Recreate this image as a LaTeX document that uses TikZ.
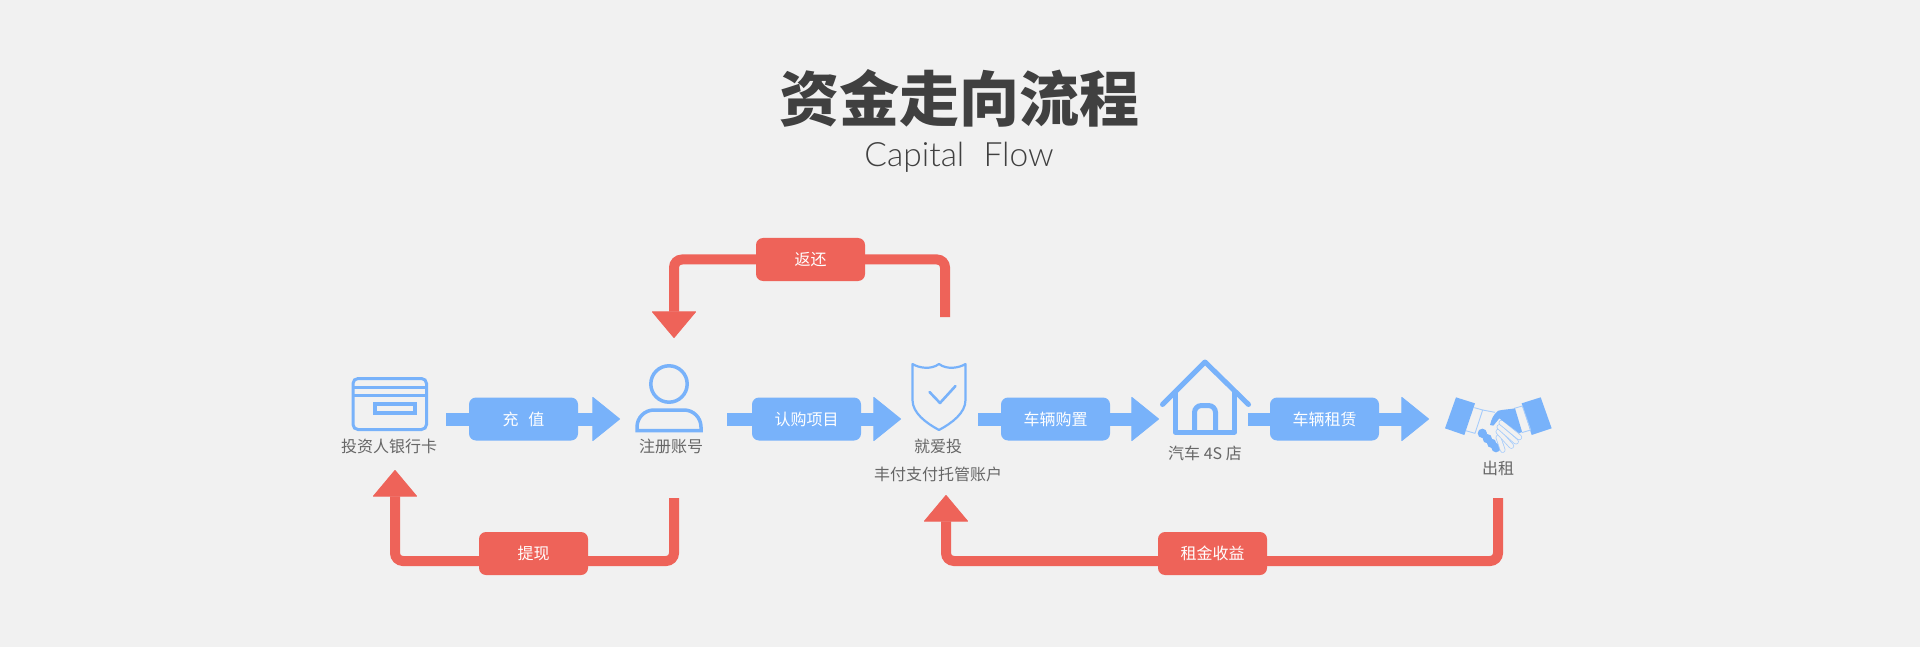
\documentclass[tikz,border=0pt]{standalone}
\usepackage{fontspec}
\usetikzlibrary{arrows.meta}
\setmainfont{Noto Sans CJK SC}
\newfontfamily\titlefont[UprightFont=* Black]{Noto Sans CJK SC}
\newfontfamily\thinfont{Lato Light}
\definecolor{bgc}{HTML}{F1F1F1}
\definecolor{bluec}{HTML}{78B2FA}
\definecolor{lightb}{HTML}{A6CCFB}
\definecolor{redc}{HTML}{EE6359}
\definecolor{titlec}{HTML}{404040}
\definecolor{textc}{HTML}{666666}
\tikzset{
  pillbase/.style={rounded corners=7pt,minimum width=109pt,minimum height=43pt,inner sep=0pt,outer sep=0pt,text=white,font=\fontsize{16}{18}\selectfont},
  bluepill/.style={pillbase,fill=bluec},
  redpill/.style={pillbase,fill=redc},
  iconbox/.style={inner sep=0pt,outer sep=0pt},
  lab/.style={text=textc,font=\fontsize{16}{18}\selectfont,inner sep=0pt},
  bluestem/.style={draw=bluec,line width=13pt},
  bluehead/.style={bluestem,-{Triangle[length=28pt,width=45pt,round,line width=1pt]}},
  redstem/.style={draw=redc,line width=10pt,rounded corners=8pt},
  redhead/.style={redstem,-{Triangle[length=27pt,width=45pt,round,line width=1pt]}},
  iconline/.style={draw=bluec,line width=3pt},
  finger/.style={line cap=round},
}
\begin{document}
\begin{tikzpicture}[x=1pt,y=-1pt]
\useasboundingbox (0,0) rectangle (1920,647);
\fill[bgc] (0,0) rectangle (1920,647);

% titles
\node[inner sep=0pt,text=titlec,font=\titlefont\fontsize{60}{64}\selectfont] (title) at (959.5,98) {资金走向流程};
\node[inner sep=0pt,text=titlec,font=\thinfont\fontsize{33.5}{40}\selectfont,anchor=base] (subtitle) at (959,167) {Capital\hspace{0.3em} Flow};

% icon areas
\node[iconbox,minimum width=77pt,minimum height=54pt] (card) at (389.5,404) {};
\node[iconbox,minimum width=68pt,minimum height=68pt] (person) at (669,398) {};
\node[iconbox,minimum width=54pt,minimum height=67pt] (shield) at (939,396.5) {};
\node[iconbox,minimum width=91pt,minimum height=76pt] (house) at (1205.5,397) {};
\node[iconbox,minimum width=107pt,minimum height=38pt] (hands) at (1498.5,416) {};

% pills
\node[bluepill] (pA) at (523.5,419) {充\hspace{0.6em}值};
\node[bluepill] (pB) at (806.5,419) {认购项目};
\node[bluepill] (pC) at (1055.5,419) {车辆购置};
\node[bluepill] (pD) at (1324.5,419) {车辆租赁};
\node[redpill] (pR) at (810.5,259.5) {返还};
\node[redpill] (pW) at (533.5,553.5) {提现};
\node[redpill] (pY) at (1212.5,553.5) {租金收益};

% labels
\node[lab] (lcard) at (389,446) {投资人银行卡};
\node[lab] (lperson) at (671,446) {注册账号};
\node[lab] (lshield1) at (938,446) {就爱投};
\node[lab] (lshield2) at (938,474) {丰付支付托管账户};
\node[lab] (lhouse) at (1205,453) {汽车 4S 店};
\node[lab] (lhands) at (1498,468) {出租};

% blue connectors
\draw[bluestem,shorten <=18pt] (card.east |- pA.west) -- (pA.west);
\draw[bluehead,shorten >=15pt] (pA.east) -- (pA.east -| person.west);
\draw[bluestem,shorten <=24pt] (person.east |- pB.west) -- (pB.west);
\draw[bluehead,shorten >=11pt] (pB.east) -- (pB.east -| shield.west);
\draw[bluestem,shorten <=12pt] (shield.east |- pC.west) -- (pC.west);
\draw[bluehead,shorten >=1pt] (pC.east) -- (pC.east -| house.west);
\draw[bluestem,shorten <=-3pt] (house.east |- pD.west) -- (pD.west);
\draw[bluehead,shorten >=16pt] (pD.east) -- (pD.east -| hands.west);

% red connectors
\coordinate (rWs) at (674,498);
\coordinate (rWt) at (395,470);
\coordinate (rYs) at (1498,498);
\coordinate (rYt) at (946,495);
\coordinate (rRs) at (945,317);
\coordinate (rRt) at (674,338);
\draw[redstem] (rWs) |- ([yshift=-7.5pt]pW.east);
\draw[redhead] ([yshift=-7.5pt]pW.west) -| (rWt);
\draw[redstem] (rYs) |- ([yshift=-7.5pt]pY.east);
\draw[redhead] ([yshift=-7.5pt]pY.west) -| (rYt);
\draw[redstem] (rRs) |- (pR.east);
\draw[redhead] (pR.west) -| (rRt);

% card icon
\draw[iconline,rounded corners=5pt] (353,378.5) rectangle (426.5,429.5);
\draw[iconline] (353,387.5) -- (426.5,387.5) (353,395) -- (426.5,395);
\draw[draw=bluec,line width=4pt] (375,404) rectangle (415,413);

% person icon
\draw[draw=bluec,line width=3.5pt] (669,384) circle (18.2);
\draw[draw=bluec,line width=3.5pt] (637,430.5) [rounded corners=17pt] -- (637,410) -- (701,410) [sharp corners] -- (701,430.5) -- cycle;

% shield icon
\draw[draw=bluec,line width=2.2pt,line join=round]
  (912.5,364) .. controls (919,368) and (931,370) .. (939,364)
  .. controls (947,370) and (959,368) .. (965.5,364)
  -- (965.5,400) .. controls (965.5,413) and (952,423) .. (939,430)
  .. controls (926,423) and (912.5,413) .. (912.5,400) -- cycle;
\draw[draw=bluec,line width=2.6pt,line cap=round,line join=round] (929.5,392) -- (940,403) -- (955.5,386);

% house icon
\draw[draw=bluec,line width=5pt,line cap=round,line join=round] (1162.5,404.5) -- (1205,362) -- (1248.5,404.5);
\draw[draw=bluec,line width=5pt,line join=round] (1175,392) -- (1175,432) -- (1234.5,432) -- (1234.5,392);
\draw[draw=bluec,line width=5pt,rounded corners=7pt] (1194.5,432) -- (1194.5,405.5) -- (1215.5,405.5) -- (1215.5,432);

% handshake icon
\begin{scope}[shift={(1430,380)},x=0.33333pt,y=-0.33333pt]
  \fill[bluec] (78,52) -- (135,70) -- (103,165) -- (45,145) -- cycle;
  \fill[bluec] (275,70) -- (332,52) -- (365,145) -- (305,165) -- cycle;
  \draw[draw=lightb,line width=0.9pt,line join=round] (133,83) -- (158,90) -- (135,160) -- (107,152);
  \draw[draw=lightb,line width=0.9pt,line join=round] (253,85) -- (277,78) -- (302,150) -- (275,158);
  \draw[draw=lightb,line width=0.9pt] (158,90) -- (195,97);
  \foreach \cx/\cy in {157/160,172/176,185/190,198/203} \fill[bluec] (\cx,\cy) circle (14);
  \foreach \ax/\ay/\bx/\by in {205/172/218/210,205/155/244/198,208/141/258/185,214/128/268/172} {
    \draw[draw=lightb,line width=5.6pt,finger] (\ax,\ay) -- (\bx,\by);
    \draw[draw=bgc,line width=4pt,finger] (\ax,\ay) -- (\bx,\by);
  }
  \fill[bluec] (180,135) .. controls (184,118) and (190,103) .. (205,92)
     .. controls (222,88) and (240,88) .. (255,85) -- (276,155) -- (268,160) -- (208,115) -- (190,137) -- cycle;
\end{scope}
\end{tikzpicture}
\end{document}
